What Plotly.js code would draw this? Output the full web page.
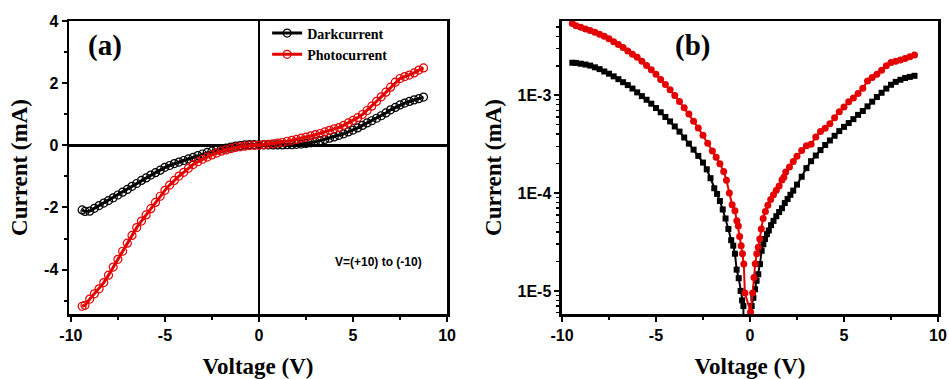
<!DOCTYPE html>
<html>
<head>
<meta charset="utf-8">
<script src="https://cdn.plot.ly/plotly-3.0.1.min.js"></script>
<style>html,body{margin:0;padding:0;background:#fff;}#chart{width:949px;height:379px;}</style>
</head>
<body>
<div id="chart"></div>
<script>
// ---------- Panel (a): linear I-V (mA) ----------
const voltageA = [-9.4,-9.25,-9.0,-8.75,-8.5,-8.25,-8.0,-7.75,-7.5,-7.25,-7.0,-6.75,-6.5,-6.25,-6.0,-5.75,-5.5,-5.25,-5.0,-4.75,-4.5,-4.25,-4.0,-3.75,-3.5,-3.25,-3.0,-2.75,-2.5,-2.25,-2.0,-1.75,-1.5,-1.25,-1.0,-0.75,-0.5,-0.25,0.0,0.25,0.5,0.75,1.0,1.25,1.5,1.75,2.0,2.25,2.5,2.75,3.0,3.25,3.5,3.75,4.0,4.25,4.5,4.75,5.0,5.25,5.5,5.75,6.0,6.25,6.5,6.75,7.0,7.25,7.5,7.75,8.0,8.25,8.5,8.75];
const darkA = [-2.08,-2.13,-2.12,-2.03,-1.94,-1.86,-1.78,-1.69,-1.60,-1.51,-1.42,-1.32,-1.23,-1.13,-1.05,-0.96,-0.88,-0.80,-0.71,-0.65,-0.59,-0.54,-0.49,-0.44,-0.39,-0.33,-0.28,-0.23,-0.19,-0.15,-0.12,-0.09,-0.06,-0.03,-0.01,0.01,0.02,0.02,0.01,0.01,0.01,0.01,0.01,0.01,0.02,0.02,0.03,0.04,0.06,0.08,0.11,0.15,0.19,0.23,0.27,0.32,0.37,0.43,0.49,0.56,0.64,0.72,0.79,0.87,0.95,1.04,1.14,1.22,1.30,1.36,1.41,1.46,1.50,1.55];
const photoA = [-5.18,-5.15,-4.95,-4.78,-4.62,-4.42,-4.18,-3.92,-3.67,-3.41,-3.15,-2.90,-2.65,-2.44,-2.24,-2.04,-1.84,-1.64,-1.45,-1.28,-1.13,-0.99,-0.87,-0.74,-0.62,-0.53,-0.45,-0.38,-0.31,-0.25,-0.19,-0.15,-0.11,-0.07,-0.05,-0.03,-0.01,0.00,0.00,0.02,0.03,0.05,0.07,0.09,0.13,0.16,0.19,0.23,0.26,0.30,0.34,0.38,0.43,0.48,0.53,0.57,0.64,0.72,0.80,0.89,0.99,1.12,1.26,1.41,1.56,1.71,1.87,2.03,2.15,2.21,2.26,2.33,2.42,2.49];

// ---------- Panel (b): |I| on log scale ----------
const voltageDarkB = [-9.45,-9.25,-9.0,-8.75,-8.5,-8.25,-8.0,-7.75,-7.5,-7.25,-7.0,-6.75,-6.5,-6.25,-6.0,-5.75,-5.5,-5.25,-5.0,-4.75,-4.5,-4.25,-4.0,-3.75,-3.5,-3.25,-3.0,-2.75,-2.5,-2.3,-2.1,-1.9,-1.75,-1.6,-1.45,-1.3,-1.15,-1.0,-0.89,-0.8,-0.71,-0.6,-0.5,-0.42,-0.35,-0.33,-0.06,0.09,0.18,0.27,0.35,0.44,0.53,0.62,0.71,0.8,0.9,1.0,1.12,1.25,1.4,1.55,1.7,1.85,2.0,2.15,2.3,2.5,2.75,3.0,3.25,3.5,3.75,4.0,4.25,4.5,4.75,5.0,5.25,5.5,5.75,6.0,6.25,6.5,6.75,7.0,7.25,7.5,7.75,8.0,8.25,8.5,8.75];
const darkB = [2.15e-3,2.14e-3,2.10e-3,2.06e-3,2.01e-3,1.93e-3,1.85e-3,1.75e-3,1.66e-3,1.56e-3,1.46e-3,1.36e-3,1.27e-3,1.17e-3,1.07e-3,9.8e-4,9.0e-4,8.2e-4,7.4e-4,6.7e-4,6.0e-4,5.4e-4,4.8e-4,4.25e-4,3.7e-4,3.2e-4,2.78e-4,2.4e-4,2.05e-4,1.75e-4,1.42e-4,1.12e-4,9.8e-5,8.3e-5,6.8e-5,5.5e-5,4.3e-5,3.3e-5,2.9e-5,2.4e-5,1.65e-5,1.35e-5,1.0e-5,8.0e-6,7.0e-6,1e-8,1e-8,7.0e-6,8.5e-6,1.04e-5,1.27e-5,1.48e-5,1.88e-5,2.57e-5,3.0e-5,3.39e-5,3.8e-5,4.15e-5,4.7e-5,5.2e-5,5.8e-5,6.4e-5,7.0e-5,7.9e-5,8.7e-5,9.6e-5,1.06e-4,1.22e-4,1.47e-4,1.80e-4,2.12e-4,2.42e-4,2.75e-4,3.1e-4,3.45e-4,3.85e-4,4.3e-4,4.75e-4,5.2e-4,5.7e-4,6.3e-4,6.9e-4,7.7e-4,8.6e-4,9.6e-4,1.06e-3,1.17e-3,1.28e-3,1.37e-3,1.44e-3,1.50e-3,1.54e-3,1.58e-3];
const voltagePhotoB = [-9.45,-9.25,-9.0,-8.75,-8.5,-8.25,-8.0,-7.75,-7.5,-7.25,-7.0,-6.75,-6.5,-6.25,-6.0,-5.75,-5.5,-5.25,-5.0,-4.75,-4.5,-4.25,-4.0,-3.75,-3.5,-3.25,-3.0,-2.75,-2.5,-2.25,-2.0,-1.8,-1.6,-1.4,-1.25,-1.1,-0.95,-0.8,-0.7,-0.62,-0.55,-0.47,-0.4,-0.33,-0.27,0.03,0.14,0.21,0.28,0.36,0.44,0.52,0.6,0.7,0.82,0.95,1.1,1.25,1.4,1.55,1.7,1.8,1.9,2.1,2.3,2.5,2.75,3.0,3.25,3.5,3.75,4.0,4.25,4.5,4.75,5.0,5.25,5.5,5.75,6.0,6.25,6.5,6.75,7.0,7.25,7.5,7.75,8.0,8.25,8.5,8.75];
const photoB = [5.40e-3,5.13e-3,4.95e-3,4.76e-3,4.58e-3,4.40e-3,4.21e-3,4.01e-3,3.78e-3,3.53e-3,3.30e-3,3.07e-3,2.84e-3,2.63e-3,2.44e-3,2.23e-3,2.02e-3,1.82e-3,1.64e-3,1.45e-3,1.29e-3,1.14e-3,9.93e-4,8.61e-4,7.45e-4,6.44e-4,5.43e-4,4.62e-4,3.89e-4,3.24e-4,2.69e-4,2.32e-4,2.0e-4,1.66e-4,1.35e-4,1.0e-4,7.6e-5,6.6e-5,5.2e-5,4.6e-5,3.6e-5,2.9e-5,2.4e-5,1.88e-5,9.5e-6,6.1e-6,9.5e-6,1.37e-5,1.9e-5,2.4e-5,2.8e-5,3.4e-5,4.3e-5,5.5e-5,6.5e-5,7.5e-5,8.6e-5,9.6e-5,1.07e-4,1.18e-4,1.36e-4,1.45e-4,1.64e-4,1.85e-4,2.1e-4,2.38e-4,2.72e-4,3.05e-4,3.15e-4,3.75e-4,4.25e-4,4.6e-4,5.1e-4,5.9e-4,6.8e-4,7.6e-4,8.6e-4,9.4e-4,1.04e-3,1.18e-3,1.40e-3,1.52e-3,1.64e-3,1.80e-3,2.0e-3,2.16e-3,2.22e-3,2.29e-3,2.38e-3,2.48e-3,2.58e-3];

// ---------- Tick labels ----------
const xTickVals = [-10,-5,0,5,10];
const xTickText = ['-10','-5','0','5','10'];
const yTickValsA = [-4,-2,0,2,4];
const yTickTextA = ['-4','-2','0','2','4'];
const yTickValsB = [1e-5,1e-4,1e-3];
const yTickTextB = ['1E-5','1E-4','1E-3'];
const yMinorB = [6e-6,7e-6,8e-6,9e-6,2e-5,3e-5,4e-5,5e-5,6e-5,7e-5,8e-5,9e-5,2e-4,3e-4,4e-4,5e-4,6e-4,7e-4,8e-4,9e-4,2e-3,3e-3,4e-3,5e-3];

const bold = arr => arr.map(t => '<b>' + t + '</b>');

const RED = 'rgb(228,0,0)';
const serif = 'Liberation Serif, Times New Roman, serif';
const sans = 'Liberation Sans, Arial, sans-serif';
const tickFont = {family: sans, size: 16, color: '#000', weight: 'bold'};
const titleFont = {family: serif, size: 23, color: '#000', weight: 'bold'};

const traces = [
  {x: voltageA, y: darkA, xaxis: 'x', yaxis: 'y', name: 'Darkcurrent', type: 'scatter', mode: 'lines+markers',
   line: {color: '#000', width: 3}, marker: {symbol: 'circle-open', size: 8, color: '#000', line: {width: 1.2}}},
  {x: voltageA, y: photoA, xaxis: 'x', yaxis: 'y', name: 'Photocurrent', type: 'scatter', mode: 'lines+markers',
   line: {color: RED, width: 3}, marker: {symbol: 'circle-open', size: 8, color: RED, line: {width: 1.2}}},
  {x: voltageDarkB, y: darkB, xaxis: 'x2', yaxis: 'y2', name: 'Dark (log)', showlegend: false, type: 'scatter', mode: 'lines+markers',
   line: {color: '#000', width: 2}, marker: {symbol: 'square', size: 6, color: '#000'}},
  {x: voltagePhotoB, y: photoB, xaxis: 'x2', yaxis: 'y2', name: 'Photo (log)', showlegend: false, type: 'scatter', mode: 'lines+markers',
   line: {color: RED, width: 2}, marker: {symbol: 'circle', size: 7, color: RED}}
];

const axisCommon = {
  showline: true, linecolor: '#000', linewidth: 2.5, mirror: true,
  ticks: 'outside', ticklen: 5, tickwidth: 2, tickcolor: '#000',
  showgrid: false, tickfont: tickFont, automargin: false
};

const layout = {
  width: 949, height: 379,
  paper_bgcolor: '#fff', plot_bgcolor: '#fff',
  margin: {l: 69, r: 11, t: 21, b: 65},
  showlegend: true,
  legend: {x: 0.228, y: 1.012, xanchor: 'left', yanchor: 'top', bgcolor: 'rgba(0,0,0,0)',
           font: {family: serif, size: 14, color: '#000', weight: 'bold'}, tracegroupgap: 0, itemwidth: 30},
  xaxis: Object.assign({}, axisCommon, {
    domain: [0, 0.435], range: [-10.1, 10], tickmode: 'array', tickvals: xTickVals, ticktext: bold(xTickText),
    zeroline: true, zerolinecolor: '#000', zerolinewidth: 2.5,
    minor: {ticks: 'outside', ticklen: 3, tickwidth: 2, tickcolor: '#000', dtick: 2.5, tick0: 0},
    title: {text: '<b>Voltage (V)</b>', font: titleFont, standoff: 20}, anchor: 'y'
  }),
  yaxis: Object.assign({}, axisCommon, {
    domain: [0, 1], range: [-5.43, 4], tickmode: 'array', tickvals: yTickValsA, ticktext: bold(yTickTextA),
    zeroline: true, zerolinecolor: '#000', zerolinewidth: 2.5,
    minor: {ticks: 'outside', ticklen: 3, tickwidth: 2, tickcolor: '#000', dtick: 1, tick0: 0},
    title: {text: '<b>Current (mA)</b>', font: titleFont, standoff: 10}, anchor: 'x'
  }),
  xaxis2: Object.assign({}, axisCommon, {
    domain: [0.5673, 1], range: [-10, 10], tickmode: 'array', tickvals: xTickVals, ticktext: bold(xTickText),
    zeroline: false,
    minor: {ticks: 'outside', ticklen: 3, tickwidth: 2, tickcolor: '#000', dtick: 2.5, tick0: 0},
    title: {text: '<b>Voltage (V)</b>', font: titleFont, standoff: 20}, anchor: 'y2'
  }),
  yaxis2: Object.assign({}, axisCommon, {
    domain: [0, 1], type: 'log', range: [-5.236, -2.241], tickmode: 'array', tickvals: yTickValsB, ticktext: bold(yTickTextB),
    zeroline: false,
    minor: {ticks: 'outside', ticklen: 3, tickwidth: 1.5, tickcolor: '#000', tickmode: 'array', tickvals: yMinorB},
    title: {text: '<b>Current (mA)</b>', font: titleFont, standoff: 10}, anchor: 'x2'
  }),
  annotations: [
    {xref: 'paper', yref: 'paper', x: 0.0414, y: 0.918, xanchor: 'center', yanchor: 'middle', text: '<b>(a)</b>', showarrow: false,
     font: {family: serif, size: 29, color: '#000'}},
    {xref: 'paper', yref: 'paper', x: 0.717, y: 0.918, xanchor: 'center', yanchor: 'middle', text: '<b>(b)</b>', showarrow: false,
     font: {family: serif, size: 29, color: '#000'}},
    {xref: 'paper', yref: 'paper', x: 0.3556, y: 0.1775, xanchor: 'center', yanchor: 'middle', text: '<b>V=(+10) to (-10)</b>', showarrow: false,
     font: {family: sans, size: 12, color: '#000'}}
  ]
};

Plotly.newPlot('chart', traces, layout, {displayModeBar: false, staticPlot: true});
</script>
</body>
</html>
